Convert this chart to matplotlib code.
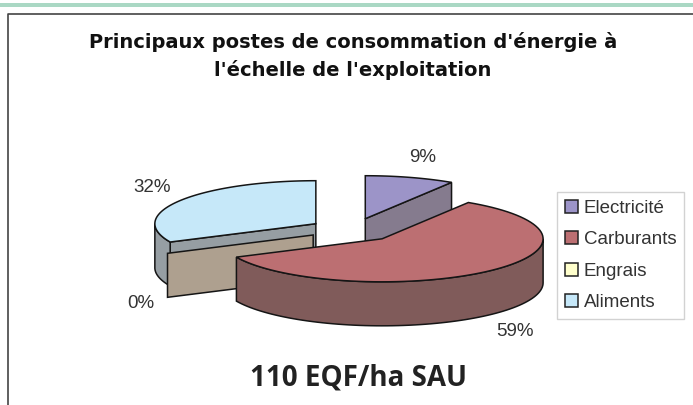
import numpy as np
import matplotlib
matplotlib.use('Agg')
import matplotlib.pyplot as plt
from matplotlib.patches import Polygon, Patch

title = "Principaux postes de consommation d'énergie à\nl'échelle de l'exploitation"
caption = "110 EQF/ha SAU"
categories = ['Electricité', 'Carburants', 'Engrais', 'Aliments']
shares = [9, 59, 0, 32]
pct_labels = ['9%', '59%', '0%', '32%']

top_colors = ['#9C94C8', '#BC6F72', '#FFFFCC', '#C6E8F9']
face_colors = ['#857B8E', '#805B5A', '#AEA08F', '#969EA3']
legend_colors = ['#9C94C8', '#BC6F72', '#FFFFCC', '#C6E8F9']

# pie geometry, in pixels of the figure
cx, cy = 353, 230
rx, ry = 161, 43
depth = 44
explode = 44
edge = '#151515'


def point(c, ang):
    return np.array([c[0] + rx * np.sin(ang), c[1] - ry * np.cos(ang)])


def arc(c, a0, a1):
    t = np.linspace(a0, a1, 80)
    return np.column_stack([c[0] + rx * np.sin(t), c[1] - ry * np.cos(t)])


def side_face(c, ang, color, z):
    p = point(c, ang)
    pts = [c, p, (p[0], p[1] + depth), (c[0], c[1] + depth)]
    ax.add_patch(Polygon(pts, closed=True, fc=color, ec=edge, lw=1.1, zorder=z))


def rim(c, a0, a1, color, z):
    # outer wall, only the front half of the ellipse can be seen
    a0 = max(a0, np.pi / 2)
    a1 = min(a1, 3 * np.pi / 2)
    if a1 <= a0:
        return
    top = arc(c, a0, a1)
    low = top[::-1] + [0, depth]
    ax.add_patch(Polygon(np.vstack([top, low]), closed=True, fc=color, ec=edge, lw=1.1, zorder=z))


fig = plt.figure(figsize=(6.93, 4.05), dpi=100)
ax = fig.add_axes([0, 0, 1, 1])
ax.set_xlim(0, 693)
ax.set_ylim(405, 0)
ax.axis('off')

# page strip and chart frame
ax.fill_between([0, 693], 3, 6.5, color='#AAD8C4', lw=0)
ax.plot([7.5, 7.5, 693], [405, 14, 14], color='#444444', lw=1.2)

ends = np.cumsum(shares) / 100 * 2 * np.pi
starts = np.concatenate([[0], ends[:-1]])
centers = []
for a0, a1 in zip(starts, ends):
    mid = (a0 + a1) / 2
    centers.append(np.array([cx + explode * np.sin(mid), cy - explode * ry / rx * np.cos(mid)]))

# draw back to front: aliments, engrais, electricite, carburants
for i, z in zip([3, 2, 0, 1], [2, 3, 4, 5]):
    c = centers[i]
    a0, a1 = starts[i], ends[i]
    if i == 3:
        side_face(c, a0, face_colors[i], z)
    if i == 2:
        side_face(c, a0, face_colors[i], z)
        continue
    if i == 0:
        side_face(c, a1, face_colors[i], z)
    rim(c, a0, a1, face_colors[i], z)
    ax.add_patch(Polygon(np.vstack([c, arc(c, a0, a1)]), closed=True, fc=top_colors[i], ec=edge, lw=1.1, zorder=z))

ax.text(353, 56, title, ha='center', va='center', multialignment='center', fontsize=14, fontweight='bold',
        family='DejaVu Sans', color='#111111', linespacing=1.46)

label_x = [423, 515, 141, 152]
label_y = [157, 332, 303, 188]
for s, x, y in zip(pct_labels, label_x, label_y):
    ax.text(x, y, s, ha='center', va='center', fontsize=13.5, family='Liberation Sans', color='#333333')

handles = [Patch(fc=c, ec='#222222', lw=1.1) for c in legend_colors]
leg = ax.legend(handles, categories, loc='upper left', bbox_to_anchor=(557 / 693, 1 - 192 / 405),
                frameon=True, fancybox=False, edgecolor='#D2D2D2', framealpha=1,
                handlelength=0.68, handleheight=0.68, handletextpad=0.32, labelspacing=0.77,
                borderpad=0.42, borderaxespad=0, prop={'family': 'Liberation Sans', 'size': 13.5})
leg.set_zorder(6)
for t in leg.get_texts():
    t.set_color('#333333')

ax.text(358, 386, caption, ha='center', va='baseline', fontsize=20, fontweight='bold',
        family='Open Sans', color='#222222')

fig.savefig('out.png', dpi=100)
